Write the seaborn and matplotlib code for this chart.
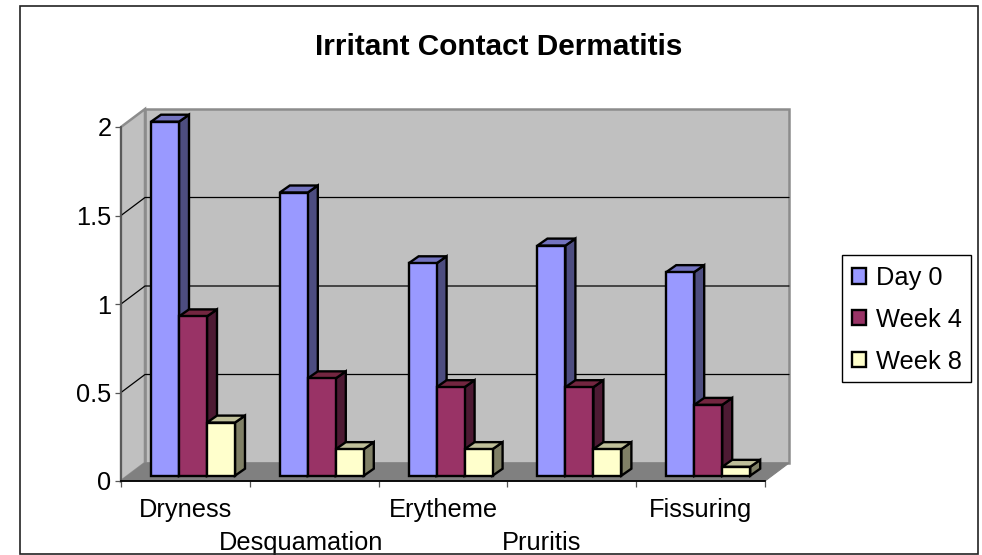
import pandas as pd
import matplotlib
matplotlib.use('Agg')
import matplotlib.pyplot as plt
import seaborn as sns
from matplotlib.patches import Polygon, Patch, Rectangle
from matplotlib.transforms import Affine2D

# values
symptoms = ['Dryness', 'Desquamation', 'Erytheme', 'Pruritis', 'Fissuring']
day_0 = [2.0, 1.6, 1.2, 1.3, 1.15]
week_4 = [0.9, 0.55, 0.5, 0.5, 0.4]
week_8 = [0.3, 0.15, 0.15, 0.15, 0.05]
series_names = ['Day 0', 'Week 4', 'Week 8']
y_ticks = [0, 0.5, 1, 1.5, 2]
y_labels = ['0', '0.5', '1', '1.5', '2']

front_colors = ['#9999FF', '#993366', '#FFFFCC']
top_colors = ['#7373BF', '#732640', '#BFBF99']
side_colors = ['#4D4D80', '#4D1A33', '#808066']

df = pd.DataFrame({
    'symptom': symptoms * 3,
    'score': day_0 + week_4 + week_8,
    'time': [n for n in series_names for _ in symptoms],
})

sns.set_style('white')
plt.rcParams['font.family'] = ['Liberation Sans', 'DejaVu Sans']
plt.rcParams['text.color'] = 'black'
plt.rcParams['xtick.labelcolor'] = 'black'
plt.rcParams['ytick.labelcolor'] = 'black'

W, H = 982, 555
fig = plt.figure(figsize=(W / 100, H / 100), dpi=100)
ax = fig.add_axes([121 / W, (H - 481) / H, 644 / W, 354 / H])

sns.barplot(data=df, x='symptom', y='score', hue='time', order=symptoms,
            hue_order=series_names, palette=front_colors, saturation=1,
            width=0.652, gap=0, edgecolor='black', linewidth=1.7,
            legend=False, ax=ax)

ax.set_xlim(-0.5, 4.5)
ax.set_ylim(0, 2)
ax.patch.set_visible(False)

# 3d look: depth of the box and of the bars, in data units
wall_dx, wall_dy = 24 / 128.8, 18 / 177
bar_dx, bar_dy = 10 / 128.8, 7 / 177

# back wall, side wall and floor
x0, x1 = -0.5, 4.5
ax.add_patch(Polygon([(x0 + wall_dx, wall_dy), (x1 + wall_dx, wall_dy), (x1 + wall_dx, 2 + wall_dy), (x0 + wall_dx, 2 + wall_dy)],
                     fc='#C0C0C0', ec='#8C8C8C', lw=1.8, clip_on=False, zorder=0.5))
ax.add_patch(Polygon([(x0, 0), (x0 + wall_dx, wall_dy), (x0 + wall_dx, 2 + wall_dy), (x0, 2)],
                     fc='#C0C0C0', ec='#8C8C8C', lw=1.8, clip_on=False, zorder=0.5))
ax.add_patch(Polygon([(x0, 0), (x0 + wall_dx, wall_dy), (x1 + wall_dx, wall_dy), (x1, 0)],
                     fc='#808080', ec='#808080', lw=0.8, clip_on=False, zorder=0.6))
for y in y_ticks[1:-1]:
    ax.plot([x0, x0 + wall_dx, x1 + wall_dx], [y, y + wall_dy, y + wall_dy], color='black', lw=0.9,
            clip_on=False, zorder=0.7)

# bars stand a little behind the front plane
bar_trans = ax.transData + Affine2D().translate(7.6, 5.3)
for i, cont in enumerate(ax.containers):
    z = 2 + i
    for bar in cont:
        bar.set_transform(bar_trans)
        bar.set_clip_on(False)
        bar.set_zorder(z + 0.2)
        x, w, h = bar.get_x(), bar.get_width(), bar.get_height()
        side = Polygon([(x + w, 0), (x + w + bar_dx, bar_dy), (x + w + bar_dx, h + bar_dy), (x + w, h)],
                       fc=side_colors[i], ec='black', lw=1.7, clip_on=False, zorder=z, transform=bar_trans)
        top = Polygon([(x, h), (x + bar_dx, h + bar_dy), (x + w + bar_dx, h + bar_dy), (x + w, h)],
                      fc=top_colors[i], ec='black', lw=1.7, clip_on=False, zorder=z, transform=bar_trans)
        ax.add_patch(side)
        ax.add_patch(top)

# axes
for s in ['top', 'right']:
    ax.spines[s].set_visible(False)
ax.spines['left'].set_color('#555555')
ax.spines['left'].set_linewidth(1.3)
ax.spines['bottom'].set_color('black')
ax.spines['bottom'].set_linewidth(1.3)
ax.set_xlabel('')
ax.set_ylabel('')
ax.set_yticks(y_ticks)
ax.set_yticklabels(y_labels)
ax.tick_params(axis='y', labelsize=18.3, length=4.3, width=0.9, color='#555555', pad=2.5, left=True)
ax.tick_params(axis='x', which='major', labelsize=18.3, length=0, pad=12)
ax.set_xticks([i - 0.5 for i in range(len(symptoms) + 1)], minor=True)
ax.tick_params(axis='x', which='minor', length=4.5, width=0.9, color='#555555', bottom=True)

# staggered category labels, as Excel left them
label_shift = [(0, 0), (-13, -33), (0, 0), (-30, -33), (0, 0)]
for lab, (dx, dy) in zip(ax.get_xticklabels(), label_shift):
    lab.set_transform(lab.get_transform() + Affine2D().translate(dx, dy))
    lab.set_clip_on(False)

fig.text(499 / W, 1 - 47 / H, 'Irritant Contact Dermatitis', fontsize=21.4, fontweight='bold',
         ha='center', va='center', color='black')

# legend frame drawn apart so its size can follow the reference
fig.add_artist(Rectangle((842 / W, 1 - 382 / H), 129 / W, 127 / H, transform=fig.transFigure,
                         fc='none', ec='black', lw=1))
handles = [Patch(fc=c, ec='black', lw=1.7) for c in front_colors]
leg = ax.legend(handles, series_names, loc='upper left', bbox_to_anchor=(852 / W, 1 - 266 / H),
                bbox_transform=fig.transFigure, fontsize=18.3, frameon=False,
                borderaxespad=0, borderpad=0, handlelength=0.55, handleheight=0.55,
                handletextpad=0.39, labelspacing=0.7)
leg.set_zorder(20)

# chart frame
fig.add_artist(Rectangle((19.5 / W, 1 - 554 / H), (978 - 19.5) / W, (554 - 5.5) / H, transform=fig.transFigure,
                         fc='none', ec='#222222', lw=1.2))

fig.savefig('out.png', dpi=100, facecolor='white')
